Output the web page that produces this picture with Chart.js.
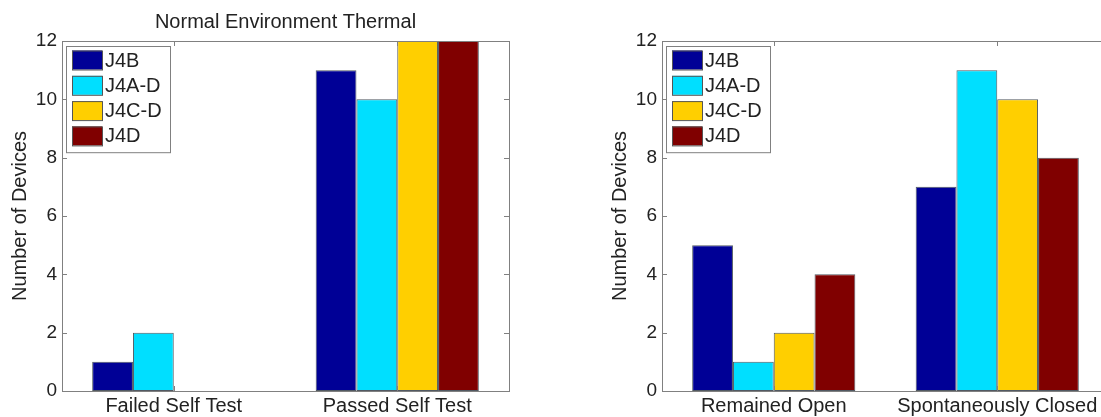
<!DOCTYPE html>
<html>
<head>
<meta charset="utf-8">
<title>Normal Environment Thermal</title>
<script src="https://cdn.jsdelivr.net/npm/chart.js@4.4.1/dist/chart.umd.min.js"></script>
<style>
  html, body { margin: 0; padding: 0; background: #fff; overflow: hidden; }
  #wrap { position: relative; width: 1101px; height: 417px; overflow: hidden; }
  #wrap canvas { position: absolute; top: 0; }
  #selfTestChart { left: 0; }
  #closureChart { left: 600px; }
</style>
</head>
<body>
<div id="wrap">
  <canvas id="selfTestChart" width="540" height="417"></canvas>
  <canvas id="closureChart" width="540" height="417"></canvas>
</div>
<script>
// data
const seriesNames = ["J4B", "J4A-D", "J4C-D", "J4D"];
const seriesColors = ["#000096", "#00dfff", "#ffcf00", "#800000"];

const selfTestCategories = ["Failed Self Test", "Passed Self Test"];
const selfTestJ4B  = [1, 11];
const selfTestJ4AD = [2, 10];
const selfTestJ4CD = [0, 12];
const selfTestJ4D  = [0, 12];

const closureCategories = ["Remained Open", "Spontaneously Closed"];
const closureJ4B  = [5, 7];
const closureJ4AD = [1, 11];
const closureJ4CD = [2, 10];
const closureJ4D  = [4, 8];

const yTicks = [0, 2, 4, 6, 8, 10, 12];

Chart.defaults.font.family = "'Liberation Sans', Arial, sans-serif";
Chart.defaults.color = "#222";

const FONT = 20;
const TICK_FONT = 19;
const AXIS = "#808080";

// MATLAB-like box, inward ticks, legend inside the axes and a title
const matlabFrame = {
  id: "matlabFrame",
  afterDatasetsDraw(chart, args, opts) {
    const { ctx, chartArea: a, scales: { x, y } } = chart;
    ctx.save();
    ctx.strokeStyle = AXIS;
    ctx.lineWidth = 1;
    ctx.strokeRect(a.left + 0.5, a.top + 0.5, a.right - a.left, a.bottom - a.top);

    ctx.beginPath();
    y.ticks.forEach(t => {
      const py = Math.round(y.getPixelForValue(t.value)) + 0.5;
      ctx.moveTo(a.left, py); ctx.lineTo(a.left + 5, py);
      ctx.moveTo(a.right, py); ctx.lineTo(a.right - 5, py);
    });
    x.ticks.forEach((t, i) => {
      const px = Math.round(x.getPixelForTick(i)) + 0.5;
      ctx.moveTo(px, a.bottom); ctx.lineTo(px, a.bottom - 5);
      ctx.moveTo(px, a.top); ctx.lineTo(px, a.top + 5);
    });
    ctx.stroke();

    // legend box
    const lx = a.left + 4, ly = a.top + 5, lw = 104, rowH = 25.3;
    const lh = rowH * chart.data.datasets.length + 5;
    ctx.fillStyle = "#fff";
    ctx.fillRect(lx, ly, lw, lh);
    ctx.strokeRect(lx + 0.5, ly + 0.5, lw, lh);
    ctx.font = FONT + "px 'Liberation Sans', Arial, sans-serif";
    ctx.textBaseline = "middle";
    ctx.textAlign = "left";
    chart.data.datasets.forEach((ds, i) => {
      const cy = ly + 14 + i * rowH;
      ctx.fillStyle = ds.backgroundColor;
      ctx.fillRect(lx + 6, cy - 9.5, 30, 19);
      ctx.strokeStyle = "#555";
      ctx.strokeRect(lx + 6.5, cy - 9, 30, 19);
      ctx.fillStyle = "#222";
      ctx.fillText(ds.label, lx + 39, cy + 1);
    });

    if (opts.title) {
      ctx.textAlign = "center";
      ctx.fillStyle = "#222";
      ctx.fillText(opts.title, (a.left + a.right) / 2, 22);
    }
    ctx.restore();
  }
};

function makeDatasets(values) {
  return seriesNames.map((name, i) => ({
    label: name,
    data: values[i],
    backgroundColor: seriesColors[i],
    borderColor: "rgba(50,60,70,0.85)",
    borderWidth: c => (c.raw ? 1 : 0),
    borderSkipped: false,
    categoryPercentage: 0.73,
    barPercentage: 1
  }));
}

function makeChart(id, categories, values, title) {
  return new Chart(document.getElementById(id), {
    type: "bar",
    data: { labels: categories, datasets: makeDatasets(values) },
    plugins: [matlabFrame],
    options: {
      responsive: false,
      animation: false,
      layout: { padding: { top: 41, right: 31, left: 0, bottom: 0 } },
      plugins: {
        legend: { display: false },
        tooltip: { enabled: false },
        matlabFrame: { title: title }
      },
      scales: {
        x: {
          grid: { display: false, drawTicks: false },
          border: { display: false },
          ticks: { autoSkip: false, maxRotation: 0, padding: 3, font: { size: FONT } },
          afterFit: s => { s.height = 26; }
        },
        y: {
          min: 0,
          max: 12,
          afterBuildTicks: s => { s.ticks = yTicks.map(v => ({ value: v })); },
          grid: { display: false, drawTicks: false },
          border: { display: false },
          ticks: { padding: 5, font: { size: TICK_FONT } },
          title: {
            display: true,
            text: "Number of Devices",
            font: { size: FONT },
            padding: { top: 8, bottom: 0 }
          },
          afterFit: s => { s.width = 62; }
        }
      }
    }
  });
}

makeChart("selfTestChart", selfTestCategories,
  [selfTestJ4B, selfTestJ4AD, selfTestJ4CD, selfTestJ4D], "Normal Environment Thermal");
makeChart("closureChart", closureCategories,
  [closureJ4B, closureJ4AD, closureJ4CD, closureJ4D], "");
</script>
</body>
</html>
